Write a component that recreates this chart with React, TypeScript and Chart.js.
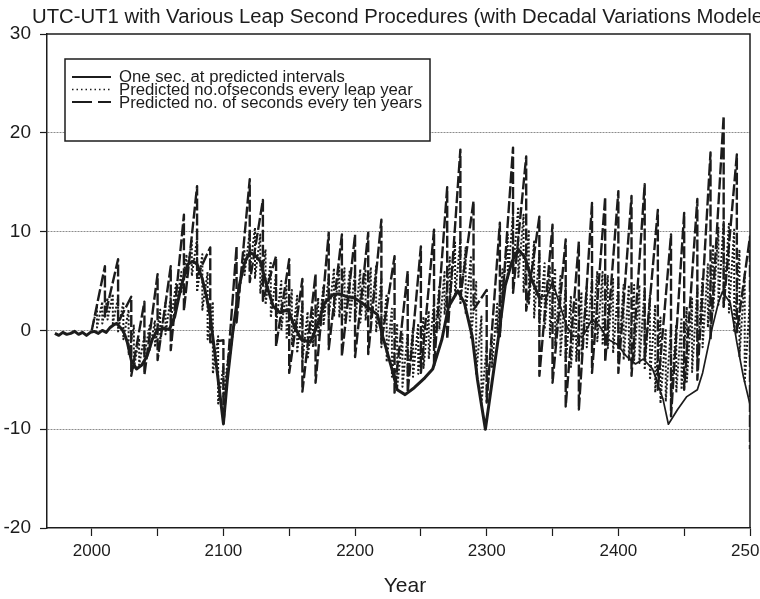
import { useEffect, useRef } from 'react';
import { Chart, registerables } from 'chart.js';

Chart.register(...registerables);

const FONT = '"Liberation Sans", Arial, Helvetica, sans-serif';
const INK = '#1c1c1c';

const TITLE = 'UTC-UT1 with Various Leap Second Procedures (with Decadal Variations Modeled)';
const TITLE_VISIBLE = 'UTC-UT1 with Various Leap Second Procedures (with Decadal Variations Modele';
const X_TITLE = 'Year';
const SERIES_LABELS = [
  'One sec. at predicted intervals',
  'Predicted no.ofseconds every leap year',
  'Predicted no. of seconds every ten years',
];

const X_MIN = 1966;
const X_MAX = 2500;
const Y_MIN = -20;
const Y_MAX = 30;
const X_TICKS = [2000, 2050, 2100, 2150, 2200, 2250, 2300, 2350, 2400, 2450, 2500];
const X_LABELED = [2000, 2100, 2200, 2300, 2400, 2500];

// Solid: one second at predicted intervals
const SOLID_YEARS = [
  1972, 1975, 1978, 1981, 1984, 1987, 1990, 1993, 1996, 1999,
  2002, 2005, 2008, 2011, 2014, 2017, 2019, 2021, 2023, 2025,
  2027, 2030, 2034, 2038, 2042, 2046, 2050, 2055, 2059, 2063,
  2068, 2073, 2077, 2080, 2084, 2087, 2090, 2095, 2100, 2103,
  2107, 2112, 2116, 2120, 2124, 2128, 2133, 2138, 2143, 2149,
  2154, 2159, 2166, 2171, 2177, 2183, 2188, 2194, 2199, 2204,
  2211, 2217, 2221, 2228, 2232, 2238, 2245, 2253, 2259, 2266,
  2271, 2278, 2283, 2289, 2293, 2299, 2304, 2309, 2314, 2319,
  2324, 2329, 2334, 2340, 2346, 2350, 2356, 2361, 2365, 2373,
  2380, 2386, 2392, 2399, 2406, 2413, 2419, 2426, 2434, 2438,
  2445, 2452, 2460, 2464, 2471, 2476, 2479, 2485, 2490, 2495,
  2500,
];
const SOLID_VALUES = [
  -0.3, -0.5, -0.2, -0.4, -0.3, -0.1, -0.4, -0.2, -0.5, -0.2,
  -0.1, -0.3, 0.0, -0.2, 0.3, 0.6, 0.7, 0.4, 0.1, -0.4,
  -1.2, -3.0, -3.9, -3.5, -2.6, -0.9, 0.1, 0.2, 0.1, 1.4,
  4.5, 6.7, 7.0, 6.7, 5.2, 3.5, 1.4, -3.9, -9.4, -5.0,
  -0.3, 4.5, 6.8, 7.9, 7.6, 7.0, 4.5, 2.4, 1.8, 2.1,
  0.4, -0.9, -1.2, 0.4, 2.8, 3.6, 3.7, 3.4, 3.3, 2.9,
  2.2, 1.6, -0.6, -3.9, -6.0, -6.5, -5.8, -4.8, -3.9, -0.9,
  2.4, 4.0, 2.8, -0.6, -5.0, -10.0, -5.3, -0.6, 4.5, 6.9,
  8.2, 7.4, 5.2, 3.3, 3.6, 4.9, 2.4, 0.4, -0.6, -0.6,
  1.1, 0.4, -0.9, -1.4, -2.6, -3.4, -2.9, -3.9, -7.0, -9.5,
  -8.0, -6.7, -6.0, -4.3, 0.1, 2.8, 3.9, 2.8, -1.2, -4.7,
  -7.5,
];

// Dashed: predicted number of seconds every ten years (value before / after each insertion)
const DASH_YEARS = [
  2000, 2010, 2020, 2030, 2040, 2050, 2060, 2070, 2080, 2090,
  2100, 2110, 2120, 2130, 2140, 2150, 2160, 2170, 2180, 2190,
  2200, 2210, 2220, 2230, 2240, 2250, 2260, 2270, 2280, 2290,
  2300, 2310, 2320, 2330, 2340, 2350, 2360, 2370, 2380, 2390,
  2400, 2410, 2420, 2430, 2440, 2450, 2460, 2470, 2480, 2490,
  2500,
];
const DASH_HIGH = [
  0, 6.5, 7.2, 3.4, 2.9, 5.7, 6.5, 11.7, 14.6, 8.4,
  -1.0, 8.5, 15.3, 13.2, 7.5, 7.2, 5.2, 5.7, 9.9, 9.7,
  9.7, 9.9, 11.2, 7.5, 6.0, 8.5, 10.2, 14.5, 18.3, 13.1,
  4.1, 10.9, 18.5, 17.6, 11.5, 10.7, 9.2, 9.0, 12.9, 13.5,
  14.1, 13.6, 14.8, 12.2, 9.7, 11.9, 13.3, 18.0, 21.7, 17.8,
  9.5,
];
const DASH_LOW = [
  0, 1.4, 0.8, -4.6, -4.5, -3.0, -2.0, 2.0, 5.5, -1.2,
  -9.5, 0.8, 4.9, 3.0, -1.6, -4.3, -6.2, -5.3, -1.9, -2.6,
  -2.7, -2.4, -1.2, -6.3, -6.3, -4.3, -3.6, -0.9, 3.4, 2.1,
  -7.3, -0.6, 3.8, 2.0, -4.6, -5.3, -7.7, -8.0, -4.3, -3.2,
  -4.3, -4.6, -2.9, -6.0, -8.7, -6.0, -5.0, -0.9, 2.4, -0.2,
  -12.0,
];

// Dotted: predicted number of seconds every leap year (ramp start / end for each 4-year span)
const DOT_YEARS = [
  2000, 2004, 2008, 2012, 2016, 2020, 2024, 2028, 2032, 2036,
  2040, 2044, 2048, 2052, 2056, 2060, 2064, 2068, 2072, 2076,
  2080, 2084, 2088, 2092, 2096, 2100, 2104, 2108, 2112, 2116,
  2120, 2124, 2128, 2132, 2136, 2140, 2144, 2148, 2152, 2156,
  2160, 2164, 2168, 2172, 2176, 2180, 2184, 2188, 2192, 2196,
  2200, 2204, 2208, 2212, 2216, 2220, 2224, 2228, 2232, 2236,
  2240, 2244, 2248, 2252, 2256, 2260, 2264, 2268, 2272, 2276,
  2280, 2284, 2288, 2292, 2296, 2300, 2304, 2308, 2312, 2316,
  2320, 2324, 2328, 2332, 2336, 2340, 2344, 2348, 2352, 2356,
  2360, 2364, 2368, 2372, 2376, 2380, 2384, 2388, 2392, 2396,
  2400, 2404, 2408, 2412, 2416, 2420, 2424, 2428, 2432, 2436,
  2440, 2444, 2448, 2452, 2456, 2460, 2464, 2468, 2472, 2476,
  2480, 2484, 2488, 2492, 2496, 2500,
];
const DOT_START = [
  0, 0.3, 0.7, 1.1, 0.7, -0.1, -0.9, -2.5, -3.8, -3.5,
  -2.5, -2.0, -1.7, -1.0, -0.4, 0.9, 2.1, 3.9, 5.4, 5.5,
  3.9, 2.1, -0.9, -4.4, -7.4, -6.7, -3.7, 0.3, 3.8, 5.6,
  6.0, 5.3, 3.8, 2.6, 1.3, 0.6, 0.1, -0.9, -1.5, -2.3,
  -3.1, -2.9, -1.7, -0.5, 0.5, 1.3, 1.4, 1.3, 1.1, 1.0,
  0.8, 0.8, 1.0, 1.1, -0.2, -1.7, -3.2, -4.7, -5.8, -5.7,
  -5.2, -4.7, -4.4, -3.8, -2.9, -1.4, 0.1, 1.6, 3.1, 3.4,
  2.6, 1.6, -0.9, -4.4, -7.4, -7.2, -3.7, -0.2, 3.3, 5.3,
  6.1, 5.3, 3.8, 2.6, 1.3, 0.4, 0.1, -0.7, -1.5, -2.5,
  -3.5, -3.7, -3.1, -2.5, -1.7, -1.0, -1.1, -1.5, -1.8, -2.3,
  -3.0, -3.0, -3.0, -3.0, -3.3, -4.0, -5.0, -6.3, -7.4, -7.2,
  -7.0, -6.3, -6.0, -5.2, -4.2, -3.0, -1.7, 0.3, 2.0, 2.6,
  2.4, 1.8, -0.2, -2.7, -5.2,
];
const DOT_END = [
  2.4, 2.9, 3.3, 3.7, 3.3, 2.9, 2.1, 0.5, -0.8, -0.5,
  0.5, 1.0, 2.1, 2.8, 3.4, 4.7, 5.9, 7.7, 9.2, 9.3,
  7.7, 5.9, 2.9, -0.6, -3.6, -2.3, 0.7, 4.7, 8.2, 10.0,
  10.4, 9.7, 8.2, 7.0, 5.7, 5.0, 4.5, 4.1, 3.5, 2.7,
  1.9, 2.1, 3.3, 4.5, 5.5, 6.3, 6.4, 6.3, 6.1, 6.0,
  6.2, 6.2, 6.4, 6.5, 5.2, 3.7, 2.2, 0.7, -0.4, -0.3,
  0.2, 0.7, 1.4, 2.0, 2.9, 4.4, 5.9, 7.4, 8.9, 9.2,
  8.4, 7.4, 4.9, 1.4, -1.6, -0.8, 2.7, 6.2, 9.7, 11.7,
  12.5, 11.7, 10.2, 9.0, 7.7, 6.8, 6.5, 6.3, 5.5, 4.5,
  3.5, 3.3, 3.9, 4.5, 5.3, 6.0, 5.9, 5.5, 5.2, 4.7,
  4.6, 4.6, 4.6, 4.6, 4.3, 3.6, 2.6, 1.3, 0.2, 0.4,
  0.6, 1.3, 2.4, 3.2, 4.2, 5.4, 6.7, 8.7, 10.4, 11.0,
  10.8, 10.2, 8.2, 5.7, 3.2,
];

const DASH_PATTERNS = [[], [2, 2], [12, 3]];
const LINE_WIDTHS = [3, 2, 2.4];
const LEGEND_DASH = [[], [1.5, 3], [20, 6]];
const LEGEND_WIDTH = [2, 1.6, 2.2];

const decorPlugin = {
  id: 'decor',
  beforeDatasetsDraw(chart: any) {
    const { ctx, chartArea: a } = chart;
    ctx.save();
    ctx.strokeStyle = INK;
    ctx.lineWidth = 1.5;
    ctx.beginPath();
    ctx.moveTo(a.left, a.top);
    ctx.lineTo(a.right, a.top);
    ctx.lineTo(a.right, a.bottom);
    ctx.stroke();
    ctx.restore();
  },
  afterDatasetsDraw(chart: any) {
    const { ctx } = chart;
    const bx = 65, by = 59, bw = 365, bh = 82;
    ctx.save();
    ctx.fillStyle = '#ffffff';
    ctx.fillRect(bx, by, bw, bh);
    ctx.strokeStyle = INK;
    ctx.lineWidth = 1.5;
    ctx.strokeRect(bx, by, bw, bh);
    ctx.font = `16px ${FONT}`;
    const w3 = ctx.measureText(chart.data.datasets[2].label).width;
    const sx = 303 / w3;
    chart.data.datasets.forEach((ds: any, i: number) => {
      const ly = [77, 89.5, 102][i];
      ctx.save();
      ctx.strokeStyle = INK;
      ctx.lineWidth = LEGEND_WIDTH[i];
      ctx.setLineDash(LEGEND_DASH[i]);
      ctx.beginPath();
      ctx.moveTo(72, ly);
      ctx.lineTo(111, ly);
      ctx.stroke();
      ctx.restore();
      ctx.save();
      ctx.fillStyle = INK;
      ctx.textBaseline = 'alphabetic';
      ctx.translate(119, [82, 95, 108][i]);
      ctx.scale(sx, 1);
      ctx.fillText(ds.label, 0, 0);
      ctx.restore();
    });
    ctx.restore();
  },
  afterDraw(chart: any) {
    const { ctx } = chart;
    ctx.save();
    ctx.fillStyle = INK;
    ctx.textBaseline = 'alphabetic';
    ctx.font = `20px ${FONT}`;
    const tw = ctx.measureText(TITLE_VISIBLE).width;
    ctx.translate(32, 23);
    ctx.scale(731 / tw, 1);
    ctx.fillText(TITLE, 0, 0);
    ctx.restore();
    ctx.save();
    ctx.fillStyle = INK;
    ctx.font = `21px ${FONT}`;
    ctx.textAlign = 'center';
    ctx.textBaseline = 'alphabetic';
    ctx.fillText(X_TITLE, 405, 592);
    ctx.restore();
  },
};

export default function App() {
  const ref = useRef<HTMLCanvasElement>(null);
  useEffect(() => {
    if (!ref.current) return;
    const solid = SOLID_YEARS.map((x, i) => ({ x, y: SOLID_VALUES[i] }));
    const dashed: { x: number; y: number }[] = [];
    DASH_YEARS.forEach((x, i) => {
      dashed.push({ x, y: DASH_HIGH[i] });
      dashed.push({ x, y: DASH_LOW[i] });
    });
    const dotted: { x: number; y: number }[] = [];
    DOT_START.forEach((s, i) => {
      dotted.push({ x: DOT_YEARS[i], y: s });
      dotted.push({ x: DOT_YEARS[i + 1], y: DOT_END[i] });
    });
    const seriesData = [solid, dotted, dashed];

    const chart = new Chart(ref.current, {
      type: 'line',
      data: {
        datasets: SERIES_LABELS.map((label, i) => ({
          label,
          data: seriesData[i],
          borderColor: INK,
          backgroundColor: INK,
          borderWidth: LINE_WIDTHS[i],
          borderDash: DASH_PATTERNS[i],
          pointRadius: 0,
          tension: 0,
          fill: false,
          borderJoinStyle: 'round' as const,
          segment:
            i === 0
              ? { borderWidth: (c: any) => (c.p0.parsed.x >= 2338 ? 1.7 : 3) }
              : undefined,
        })),
      },
      options: {
        responsive: false,
        devicePixelRatio: 1,
        animation: false,
        layout: { padding: { top: 34, right: 10, left: 0, bottom: 0 } },
        plugins: {
          legend: { display: false },
          tooltip: { enabled: false },
          title: { display: false },
        },
        scales: {
          x: {
            type: 'linear',
            min: X_MIN,
            max: X_MAX,
            afterBuildTicks: (s: any) => {
              s.ticks = X_TICKS.map((v) => ({ value: v }));
            },
            afterFit: (s: any) => {
              s.height = 71;
              s.paddingLeft = 0;
              s.paddingRight = 0;
            },
            ticks: {
              autoSkip: false,
              maxRotation: 0,
              padding: 5,
              color: INK,
              font: { family: FONT, size: 17 },
              callback: (v: any) => (X_LABELED.includes(Number(v)) ? String(v) : ''),
            },
            grid: {
              drawOnChartArea: false,
              drawTicks: true,
              tickLength: 8,
              tickColor: INK,
              tickWidth: 1.2,
            },
            border: { display: true, color: INK, width: 1.5 },
          },
          y: {
            type: 'linear',
            min: Y_MIN,
            max: Y_MAX,
            afterFit: (s: any) => {
              s.width = 47;
            },
            ticks: {
              stepSize: 10,
              padding: 9,
              color: INK,
              font: { family: FONT, size: 19 },
            },
            grid: {
              color: (c: any) =>
                c.tick && (c.tick.value === Y_MAX || c.tick.value === Y_MIN)
                  ? 'rgba(0,0,0,0)'
                  : '#8c8c8c',
              lineWidth: 1,
              drawTicks: true,
              tickLength: 7,
              tickColor: INK,
              tickWidth: 1.2,
              tickBorderDash: [],
            },
            border: { display: true, color: INK, width: 1.5, dash: [2, 1] },
          },
        },
      },
      plugins: [decorPlugin],
    } as any);
    return () => chart.destroy();
  }, []);

  return (
    <div style={{ position: 'fixed', left: 0, top: 0, width: 760, height: 599, background: '#fff' }}>
      <canvas ref={ref} width={760} height={599} style={{ display: 'block', width: 760, height: 599 }} />
    </div>
  );
}
